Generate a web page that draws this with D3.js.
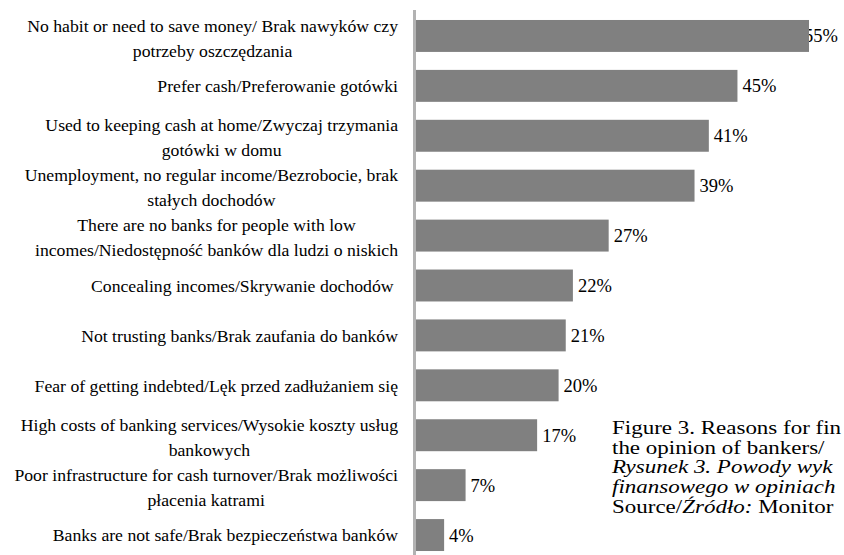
<!DOCTYPE html>
<html>
<head>
<meta charset="utf-8">
<script src="https://cdn.jsdelivr.net/npm/d3@7"></script>
<style>
  body { margin: 0; background: #fff; }
  svg { display: block; }
  text { font-family: "Liberation Serif", "Times New Roman", serif; fill: #000; }
</style>
</head>
<body>
<div id="chart"></div>
<script>
// DATA -------------------------------------------------------------------------
const categories = [
  ["No habit or need to save money/ Brak nawyków czy", "potrzeby oszczędzania"],
  ["Prefer cash/Preferowanie gotówki"],
  ["Used to keeping cash at home/Zwyczaj trzymania", "gotówki w domu"],
  ["Unemployment, no regular income/Bezrobocie, brak", "stałych dochodów"],
  ["There are no banks for people with low", "incomes/Niedostępność banków dla ludzi o niskich"],
  ["Concealing incomes/Skrywanie dochodów\u00a0"],
  ["Not trusting banks/Brak zaufania do banków"],
  ["Fear of getting indebted/Lęk przed zadłużaniem się"],
  ["High costs of banking services/Wysokie koszty usług", "bankowych"],
  ["Poor infrastructure for cash turnover/Brak możliwości", "płacenia katrami"],
  ["Banks are not safe/Brak bezpieczeństwa banków"]
]
const values = [55, 45, 41, 39, 27, 22, 21, 20, 17, 7, 4]

// caption of the page, cut at the right edge in the reference
const captionLines = [
  [["Figure 3. Reasons for fin", false]],
  [["the opinion of bankers/", false]],
  [["Rysunek 3. Powody wyk", true]],
  [["finansowego w opiniach", true]],
  [["Source/", false], ["Źródło:", true], [" Monitor", false]]
]

// LAYOUT -------------------------------------------------------------------------
const width = 844,
      height = 555,
      labelRight = 398,
      labelSize = 17.7,
      valueSize = 18.5,
      lineHeight = 25,
      plotRight = 838,
      barColor = "#808080",
      axisColor = "#b2b2b2"

const svg = d3.select("#chart")
  .append("svg")
  .attr("width", width)
  .attr("height", height)

const idx = d3.range(values.length)

const y = d3.scaleBand()
  .domain(idx)
  .range([11, 560])
  .paddingInner(0.36)
  .paddingOuter(0.18)

const x = d3.scaleLinear()
  .domain([0, 55])
  .range([415.5, 809])

// value labels go first: the longest bar covers the start of its label
const valueLabels = svg.append("g")
  .selectAll("text")
  .data(idx)
  .join("text")
  .attr("y", i => y(i) + y.bandwidth() / 2)
  .attr("dy", "0.35em")
  .attr("font-size", valueSize)
  .text(i => values[i] + "%")

valueLabels.attr("x", function(i) {
  const w = this.getComputedTextLength()
  return Math.min(x(values[i]) + 5, plotRight - w)
})

// BARS -------------------------------------------------------------------------
svg.append("g")
  .selectAll("rect")
  .data(idx)
  .join("rect")
  .attr("x", x(0))
  .attr("y", i => y(i))
  .attr("width", i => x(values[i]) - x(0))
  .attr("height", y.bandwidth())
  .attr("fill", barColor)

// vertical axis line
svg.append("line")
  .attr("x1", 414.5).attr("x2", 414.5)
  .attr("y1", 10).attr("y2", height)
  .attr("stroke", axisColor)
  .attr("stroke-width", 3)

// CATEGORY LABELS -------------------------------------------------------------------------
// lines are centred on each other, the block is right-aligned to the axis
const labels = svg.append("g")

idx.forEach(i => {
  const lines = categories[i]
  const cy = y(i) + y.bandwidth() / 2 + (lines.length > 1 ? 2 : 0)
  const t = labels.append("text")
    .attr("font-size", labelSize)
    .attr("text-anchor", "middle")
    .style("white-space", "pre")

  const spans = lines.map((ln, k) => t.append("tspan")
    .attr("y", cy + (k - (lines.length - 1) / 2) * lineHeight)
    .attr("dy", "0.35em")
    .text(ln))

  const maxW = d3.max(spans, s => s.node().getComputedTextLength())
  spans.forEach(s => s.attr("x", labelRight - maxW / 2))
})

// CAPTION -------------------------------------------------------------------------
// the page text is set wide and tight, so stretch it sideways
const caption = svg.append("text")
  .attr("font-size", 19)
  .attr("transform", "translate(612,0) scale(1.21,1)")

captionLines.forEach((parts, k) => {
  parts.forEach((p, j) => {
    const s = caption.append("tspan")
      .attr("font-style", p[1] ? "italic" : "normal")
      .style("white-space", "pre")
      .text(p[0])
    if (j === 0) s.attr("x", 0).attr("y", 434 + k * 19.7)
  })
})
</script>
</body>
</html>
